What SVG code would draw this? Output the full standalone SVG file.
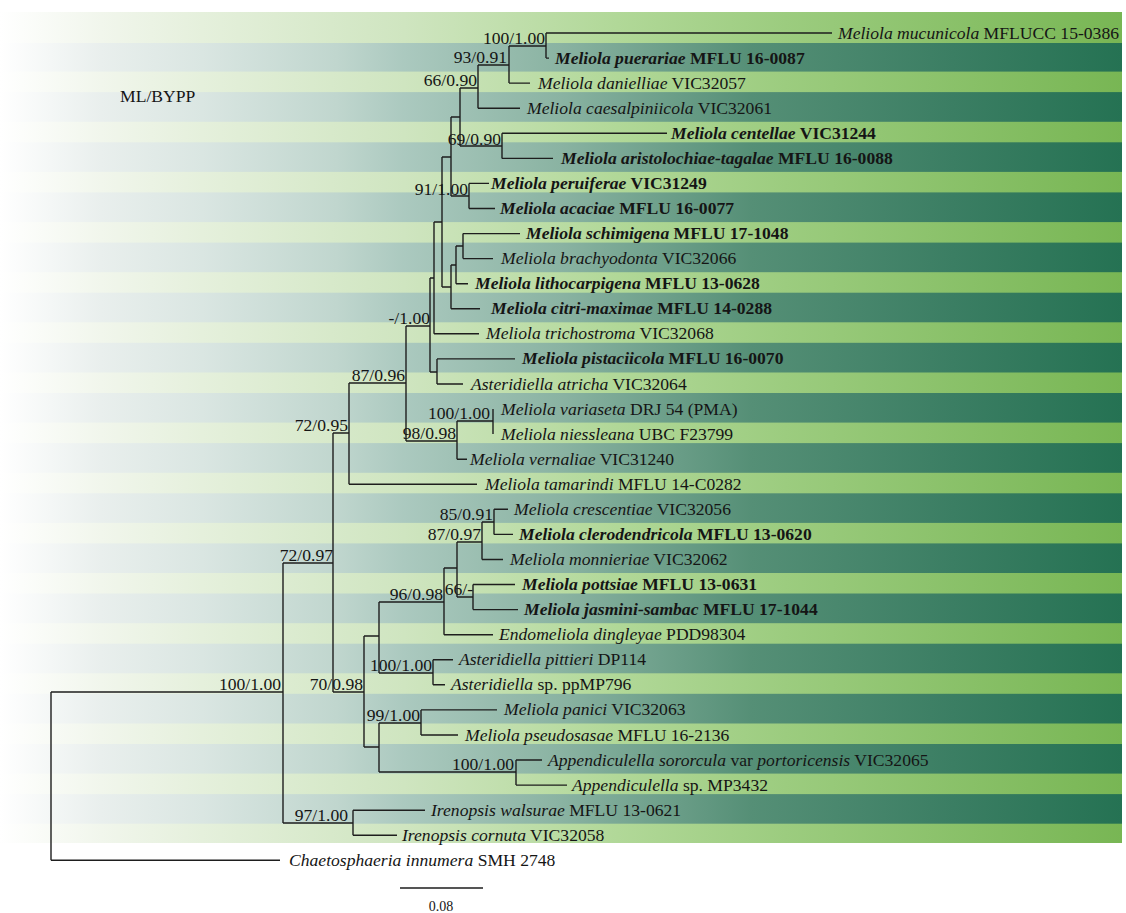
<svg xmlns="http://www.w3.org/2000/svg" width="1126" height="913" viewBox="0 0 1126 913">
<defs>
<linearGradient id="gL" gradientUnits="userSpaceOnUse" x1="0" y1="0" x2="1122" y2="0">
<stop offset="0" stop-color="#ffffff"/>
<stop offset="0.09" stop-color="#f1f6ec"/>
<stop offset="0.18" stop-color="#e5f0dc"/>
<stop offset="0.36" stop-color="#cfe5c0"/>
<stop offset="0.55" stop-color="#b1d898"/>
<stop offset="0.70" stop-color="#9ccc7f"/>
<stop offset="1" stop-color="#78b654"/>
</linearGradient>
<linearGradient id="gD" gradientUnits="userSpaceOnUse" x1="0" y1="0" x2="1122" y2="0">
<stop offset="0" stop-color="#ffffff"/>
<stop offset="0.09" stop-color="#e9efed"/>
<stop offset="0.18" stop-color="#dae6e2"/>
<stop offset="0.30" stop-color="#c0d6ce"/>
<stop offset="0.36" stop-color="#abc9bf"/>
<stop offset="0.50" stop-color="#8ab3a2"/>
<stop offset="0.67" stop-color="#558f76"/>
<stop offset="0.85" stop-color="#3b7e63"/>
<stop offset="1" stop-color="#257253"/>
</linearGradient>
</defs>
<style>
text{font-family:"Liberation Serif","Times New Roman",serif;font-size:17.6px;fill:#151515}
.b{font-weight:bold}
.i{font-style:italic}
.s{text-anchor:end}
#connectors path{fill:none;stroke:#1e1e1e;stroke-width:1.4}
</style>
<g id="bands">
<rect x="0" y="12" width="1122" height="831" fill="url(#gD)"/>
<rect x="0" y="12" width="1122" height="31" fill="url(#gL)"/>
<rect x="0" y="71.6" width="1122" height="20.5" fill="url(#gL)"/>
<rect x="0" y="121.8" width="1122" height="20.5" fill="url(#gL)"/>
<rect x="0" y="171.9" width="1122" height="20.5" fill="url(#gL)"/>
<rect x="0" y="222.1" width="1122" height="20.5" fill="url(#gL)"/>
<rect x="0" y="272.2" width="1122" height="20.5" fill="url(#gL)"/>
<rect x="0" y="322.3" width="1122" height="20.5" fill="url(#gL)"/>
<rect x="0" y="372.5" width="1122" height="20.5" fill="url(#gL)"/>
<rect x="0" y="422.6" width="1122" height="20.5" fill="url(#gL)"/>
<rect x="0" y="472.8" width="1122" height="20.5" fill="url(#gL)"/>
<rect x="0" y="522.9" width="1122" height="20.5" fill="url(#gL)"/>
<rect x="0" y="573.0" width="1122" height="20.5" fill="url(#gL)"/>
<rect x="0" y="623.2" width="1122" height="20.5" fill="url(#gL)"/>
<rect x="0" y="673.3" width="1122" height="20.5" fill="url(#gL)"/>
<rect x="0" y="723.5" width="1122" height="20.5" fill="url(#gL)"/>
<rect x="0" y="773.6" width="1122" height="20.5" fill="url(#gL)"/>
<rect x="0" y="823.7" width="1122" height="19.3" fill="url(#gL)"/>
</g>
<g id="connectors">
<path d="M51,692V860.3M51,692H283M51,860.3H280
M283,563V823M283,563H333M283,823H353
M353,810.2V835.2M353,810.2H425M353,835.2H397
M333,433V692M333,433H349M333,692H364
M349,383V484.3M349,383H406M349,484.3H477
M406,326V441M406,326H430M406,441H457
M430,278V372M430,278H434M430,372H437
M434,222V333.8M434,222H442M434,333.8H479
M442,157V287M442,157H451M442,287H451
M451,117V196M451,117H460M451,196H469
M460,88V146M460,88H478M460,146H502
M478,65V108.2M478,65H509M478,108.2H520
M509,46V83.1M509,46H546M509,83.1H530
M546,33V58.1M546,33H832M546,58.1H549
M502,133.3V158.4M502,133.3H667M502,158.4H553
M469,183.4V208.5M469,183.4H489M469,208.5H495
M451,265V308.8M451,265H456M451,308.8H480
M456,246V283.7M456,246H463M456,283.7H468
M463,233.6V258.6M463,233.6H520M463,258.6H493
M437,358.9V384M437,358.9H515M437,384H463
M457,421V459.2M457,421H493M457,459.2H467
M493,409.1V434.1
M364,636V747M364,636H379M364,747H379
M379,602V673M379,602H444M379,673H433
M444,568V634.7M444,568H457M444,634.7H493
M457,542V597M457,542H482M457,597H473
M482,522V559.5M482,522H494M482,559.5H503
M494,509.3V534.4M494,509.3H508M494,534.4H513
M473,584.5V609.6M473,584.5H515M473,609.6H518
M433,659.8V684.8M433,659.8H453M433,684.8H445
M379,723V772M379,723H421M379,772H516
M421,709.9V735M421,709.9H497M421,735H458
M516,760V785.1M516,760H542M516,785.1H567
M400,888H483"/>
</g>
<g id="title"><text x="120" y="102">ML/BYPP</text></g>
<g id="support">
<text class="s" x="545" y="44">100/1.00</text>
<text class="s" x="507" y="63">93/0.91</text>
<text class="s" x="477" y="86">66/0.90</text>
<text class="s" x="501" y="145">69/0.90</text>
<text class="s" x="468" y="195">91/1.00</text>
<text class="s" x="430" y="324">-/1.00</text>
<text class="s" x="405" y="381">87/0.96</text>
<text class="s" x="490" y="419">100/1.00</text>
<text class="s" x="456" y="439">98/0.98</text>
<text class="s" x="348" y="431">72/0.95</text>
<text class="s" x="333" y="561">72/0.97</text>
<text class="s" x="493" y="520">85/0.91</text>
<text class="s" x="481" y="540">87/0.97</text>
<text class="s" x="473" y="595">66/-</text>
<text class="s" x="443" y="600">96/0.98</text>
<text class="s" x="432" y="671">100/1.00</text>
<text class="s" x="281" y="690">100/1.00</text>
<text class="s" x="363" y="690">70/0.98</text>
<text class="s" x="420" y="721">99/1.00</text>
<text class="s" x="514" y="770">100/1.00</text>
<text class="s" x="348" y="821">97/1.00</text>
</g>
<g id="taxa">
<g id="t01"><text x="838" y="38.5"><tspan class="i">Meliola mucunicola</tspan> MFLUCC 15-0386</text></g>
<g id="t02"><text class="b" x="555" y="63.5"><tspan class="i">Meliola puerariae</tspan> MFLU 16-0087</text></g>
<g id="t03"><text x="538" y="88.6"><tspan class="i">Meliola danielliae</tspan> VIC32057</text></g>
<g id="t04"><text x="527" y="113.7"><tspan class="i">Meliola caesalpiniicola</tspan> VIC32061</text></g>
<g id="t05"><text class="b" x="671" y="138.8"><tspan class="i">Meliola centellae</tspan> VIC31244</text></g>
<g id="t06"><text class="b" x="561" y="163.9"><tspan class="i">Meliola aristolochiae-tagalae</tspan> MFLU 16-0088</text></g>
<g id="t07"><text class="b" x="491" y="188.9"><tspan class="i">Meliola peruiferae</tspan> VIC31249</text></g>
<g id="t08"><text class="b" x="500" y="214"><tspan class="i">Meliola acaciae</tspan> MFLU 16-0077</text></g>
<g id="t09"><text class="b" x="526" y="239.1"><tspan class="i">Meliola schimigena</tspan> MFLU 17-1048</text></g>
<g id="t10"><text x="501" y="264.1"><tspan class="i">Meliola brachyodonta</tspan> VIC32066</text></g>
<g id="t11"><text class="b" x="475" y="289.2"><tspan class="i">Meliola lithocarpigena</tspan> MFLU 13-0628</text></g>
<g id="t12"><text class="b" x="491" y="314.3"><tspan class="i">Meliola citri-maximae</tspan> MFLU 14-0288</text></g>
<g id="t13"><text x="486" y="339.3"><tspan class="i">Meliola trichostroma</tspan> VIC32068</text></g>
<g id="t14"><text class="b" x="522" y="364.4"><tspan class="i">Meliola pistaciicola</tspan> MFLU 16-0070</text></g>
<g id="t15"><text x="471" y="389.5"><tspan class="i">Asteridiella atricha</tspan> VIC32064</text></g>
<g id="t16"><text x="501" y="414.5"><tspan class="i">Meliola variaseta</tspan> DRJ 54 (PMA)</text></g>
<g id="t17"><text x="501" y="439.6"><tspan class="i">Meliola niessleana</tspan> UBC F23799</text></g>
<g id="t18"><text x="470" y="464.7"><tspan class="i">Meliola vernaliae</tspan> VIC31240</text></g>
<g id="t19"><text x="485" y="489.8"><tspan class="i">Meliola tamarindi</tspan> MFLU 14-C0282</text></g>
<g id="t20"><text x="514" y="514.8"><tspan class="i">Meliola crescentiae</tspan> VIC32056</text></g>
<g id="t21"><text class="b" x="519" y="539.9"><tspan class="i">Meliola clerodendricola</tspan> MFLU 13-0620</text></g>
<g id="t22"><text x="510" y="565"><tspan class="i">Meliola monnieriae</tspan> VIC32062</text></g>
<g id="t23"><text class="b" x="522" y="590"><tspan class="i">Meliola pottsiae</tspan> MFLU 13-0631</text></g>
<g id="t24"><text class="b" x="524" y="615.1"><tspan class="i">Meliola jasmini-sambac</tspan> MFLU 17-1044</text></g>
<g id="t25"><text x="499" y="640.2"><tspan class="i">Endomeliola dingleyae</tspan> PDD98304</text></g>
<g id="t26"><text x="459" y="665.3"><tspan class="i">Asteridiella pittieri</tspan> DP114</text></g>
<g id="t27"><text x="451" y="690.3"><tspan class="i">Asteridiella</tspan> sp. ppMP796</text></g>
<g id="t28"><text x="504" y="715.4"><tspan class="i">Meliola panici</tspan> VIC32063</text></g>
<g id="t29"><text x="465" y="740.5"><tspan class="i">Meliola pseudosasae</tspan> MFLU 16-2136</text></g>
<g id="t30"><text x="548" y="765.5"><tspan class="i">Appendiculella sororcula</tspan> var <tspan class="i">portoricensis</tspan> VIC32065</text></g>
<g id="t31"><text x="572" y="790.6"><tspan class="i">Appendiculella</tspan> sp. MP3432</text></g>
<g id="t32"><text x="431" y="815.7"><tspan class="i">Irenopsis walsurae</tspan> MFLU 13-0621</text></g>
<g id="t33"><text x="402" y="840.7"><tspan class="i">Irenopsis cornuta</tspan> VIC32058</text></g>
<g id="t34"><text x="289" y="865.8"><tspan class="i">Chaetosphaeria innumera</tspan> SMH 2748</text></g>
</g>
<g id="scale"><text x="441" y="911" style="text-anchor:middle;font-size:14px">0.08</text></g>
</svg>
